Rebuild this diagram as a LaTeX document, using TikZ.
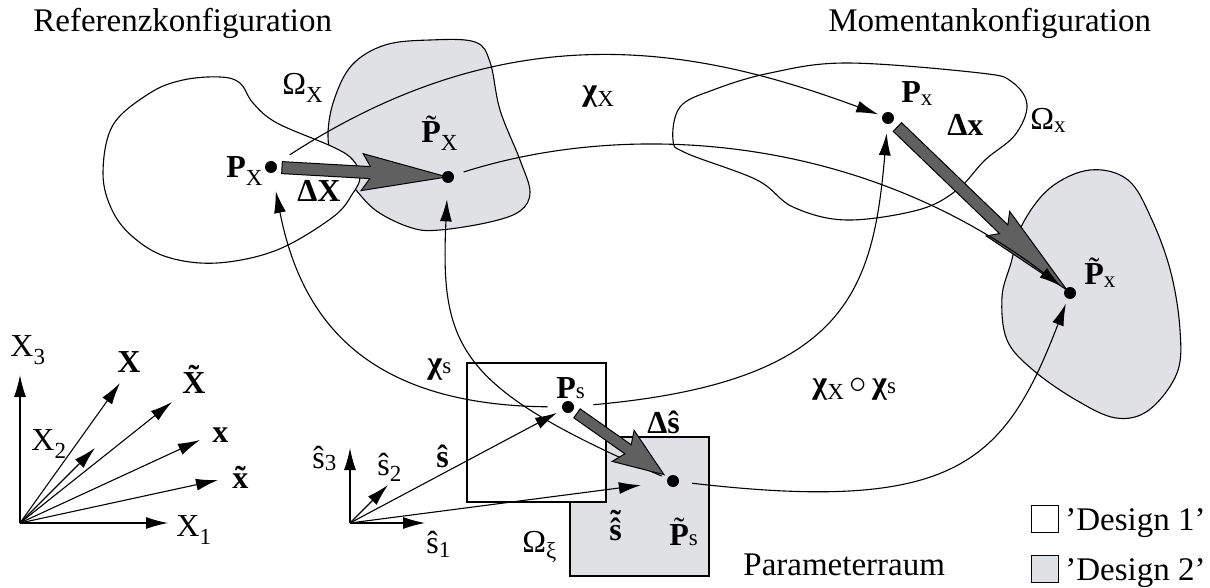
\documentclass[tikz,border=0pt]{standalone}
\usepackage{fontspec}
\setmainfont{Liberation Serif}
\usetikzlibrary{arrows.meta,calc}
\definecolor{lgray}{RGB}{224,225,228}
\definecolor{dgray}{RGB}{96,96,96}
\newcommand\Sb[2][4pt]{\raisebox{-#1}{\fontsize{11.5}{11.5}\selectfont #2}}
\newcommand\Tl[2][0.18em]{\ooalign{#2\cr\hfil\raisebox{#1}{˜}\hfil\cr}}
\newcommand\blockarr[8]{%
  \coordinate (ba-s) at ($(#1)!#3!(#2)$);
  \coordinate (ba-t) at ($(#2)!#4!(#1)$);
  \coordinate (ba-j) at ($(ba-t)!#6!(ba-s)$);
  \coordinate (ba-b) at ($(ba-t)!#6+#8!(ba-s)$);
  \filldraw[blockstyle] ($(ba-s)!#5!90:(ba-t)$) -- ($(ba-j)!#5!90:(ba-t)$)
    -- ($(ba-b)!#7!90:(ba-t)$) -- (ba-t) -- ($(ba-b)!#7!-90:(ba-t)$)
    -- ($(ba-j)!#5!-90:(ba-t)$) -- ($(ba-s)!#5!-90:(ba-t)$) -- cycle;}
\begin{document}
\begin{tikzpicture}[x={(0.5pt,0)}, y={(0,-0.5pt)},
  blob/.style={draw=black, line width=0.55pt},
  conn/.style={line width=0.55pt, -{Latex[length=11pt,width=6pt]}},
  blockstyle/.style={fill=dgray, draw=black, line width=0.5pt, line join=miter},
  dotn/.style={circle, minimum size=6pt, inner sep=0pt},
  lab/.style={inner sep=0pt, anchor=base west, font=\fontsize{16}{19}\selectfont},
  big/.style={inner sep=0pt, anchor=base west, font=\fontsize{16.5}{19}\selectfont},
  legbox/.style={draw=black, line width=0.5pt, minimum size=13.5pt, inner sep=0pt, anchor=north west},
  legtxt/.style={inner sep=0pt, anchor=base west, font=\fontsize{16.5}{19}\selectfont}]
\useasboundingbox (0,0) rectangle (1210,588);

% ---- grey (design 2) shapes
\draw[blob, fill=lgray] plot[smooth cycle, tension=0.6] coordinates {
  (385,45) (430,40) (475,42) (490,62) (500,110) (520,160) (530,192) (520,211)
  (490,222) (440,230) (412,228) (378,212) (356,190) (334,160) (328,135) (334,100) (352,65)};
\draw[blob, fill=lgray] plot[smooth cycle, tension=0.6] coordinates {
  (1011,263) (1022,225) (1050,188) (1090,170) (1128,180) (1152,220) (1171,273)
  (1180,330) (1177,373) (1149,410) (1116,418) (1076,400) (1033,370) (1007,340) (1002,297)};
\draw[line width=0.55pt, fill=lgray] (570,437) rectangle (709,576);

% ---- white (design 1) shapes
\draw[blob, fill=white] plot[smooth cycle, tension=0.6] coordinates {
  (103,173) (113,125) (150,93) (183,80) (220,77) (240,83) (253,103) (277,123)
  (333,147) (353,160) (360,177) (353,193) (333,217) (277,250) (217,263)
  (167,257) (133,237) (112,210)};
\draw[blob, fill=white] plot[smooth cycle, tension=0.6] coordinates {
  (673,140) (680,107) (713,90) (770,73) (847,63) (980,73) (1012,82) (1027,105)
  (1015,135) (985,160) (957,190) (918,210) (846,220) (793,207) (757,180) (686,153)};
\draw[line width=0.55pt, fill=white] (467,363) rectangle (606,502);

% ---- points
\node[dotn] (PXa) at (271,167) {};
\node[dotn] (PXt) at (448,177) {};
\node[dotn] (Pxa) at (888,118) {};
\node[dotn] (Pxt) at (1070,293) {};
\node[dotn] (Psa) at (568,407) {};
\node[dotn] (Pst) at (673,481) {};

% ---- mappings
\draw[conn, shorten <=8pt, shorten >=2pt] (PXa) .. controls (513,10) and (699,48) .. (Pxa);
\draw[conn, shorten <=7pt, shorten >=9pt] (Psa) .. controls (360,405) and (300,314) .. (PXa);
\draw[conn, shorten <=3pt, shorten >=8pt] (Pst) .. controls (458,388) and (440,348) .. (PXt);
\draw[conn, shorten <=9.5pt, shorten >=4.5pt] (Psa) .. controls (847,382) and (873,291) .. (Pxa);
\draw[conn, shorten <=6.5pt, shorten >=2.5pt] (Pst) .. controls (957,514) and (1005,462) .. (Pxt);

% ---- coordinate systems
\coordinate (O1) at (20,523);
\coordinate (tX3) at (20,375);
\coordinate (tX1) at (168,523);
\coordinate (tX2) at (95,448);
\coordinate (tXb) at (120,383);
\coordinate (tXt) at (172,402);
\coordinate (txb) at (200,440);
\coordinate (txt) at (218,480);
\foreach \t in {tX3,tX1,tX2,tXb,tXt,txb,txt} \draw[conn] (O1) -- (\t);
\coordinate (O2) at (350,523);
\coordinate (ts3) at (350,448);
\coordinate (ts1) at (425,523);
\coordinate (ts2) at (388,485);
\foreach \t in {ts3,ts1,ts2} \draw[conn] (O2) -- (\t);
\draw[conn, shorten >=3pt] (O2) -- (Psa);
\draw[conn, shorten >=13pt] (O2) -- (Pst);

% ---- increments
\blockarr{PXa}{PXt}{5.5pt}{0.5pt}{3pt}{38.5pt}{9.25pt}{4pt}
\blockarr{Pxa}{Pxt}{6.5pt}{2pt}{3pt}{44pt}{8.5pt}{4pt}
\blockarr{Psa}{Pst}{5.5pt}{5.5pt}{2.75pt}{22pt}{9.5pt}{3pt}

\draw[conn, shorten <=5pt, shorten >=2.5pt] (PXt) .. controls (630,119) and (862,135) .. (Pxt);

% ---- dots
\foreach \p in {PXa,PXt,Pxa,Pxt,Psa,Pst} \fill[black] (\p) circle[radius=3pt];

% ---- labels
\node[big] (lRef) at (33,32) {Referenzkonfiguration};
\node[big] (lMom) at (828,32) {Momentankonfiguration};
\node[big] (lPar) at (743,575) {Parameterraum};
\node[lab] (lOmX) at (282,95) {Ω\Sb{X}};
\node[lab] (lPX) at (226,178) {\textbf{P}\Sb{X}};
\node[lab] (lDX) at (297,202) {\textbf{ΔX}};
\node[lab] (lPtX) at (421,143) {\Tl{\textbf{P}}\Sb{X}};
\node[lab] (lchiX) at (582,101) {\textbf{χ}\Sb[3pt]{X}};
\node[lab] (lPx) at (901,103) {\textbf{P}\Sb[1.5pt]{x}};
\node[lab] (lDx) at (947,136) {\textbf{Δx}};
\node[lab] (lOmx) at (1030,130) {Ω\Sb[1.5pt]{x}};
\node[lab] (lPtx) at (1084,285) {\Tl{\textbf{P}}\Sb[1.5pt]{x}};
\node[lab] (lchis) at (427,373) {\textbf{χ}\Sb[0pt]{s}};
\node[lab] (lcomp) at (812,393) {\textbf{χ}\Sb[3pt]{X}\,$\circ$\,\textbf{χ}\Sb[0pt]{s}};
\node[lab] (lPs) at (556,398) {\textbf{P}\Sb[0pt]{s}};
\node[lab] (lDs) at (647,433) {\textbf{Δŝ}};
\node[lab] (lsh) at (436,467) {\textbf{ŝ}};
\node[lab] (lst) at (609,540) {\textbf{\Tl[0.22em]{ŝ}}};
\node[lab] (lPts) at (669,545) {\Tl{\textbf{P}}\Sb[0pt]{s}};
\node[lab] (lOmxi) at (522,552) {Ω\Sb[3pt]{ξ}};
\node[lab] (ls3) at (312,468) {ŝ\Sb[1pt]{3}};
\node[lab] (ls2) at (377,475) {ŝ\Sb[3pt]{2}};
\node[lab] (ls1) at (426,553) {ŝ\Sb[2pt]{1}};
\node[lab] (lX3) at (10,357) {X\Sb{3}};
\node[lab] (lXb) at (117,372) {\textbf{X}};
\node[lab] (lXt) at (182,393) {\textbf{\Tl{X}}};
\node[lab] (lX2) at (31,450) {X\Sb{2}};
\node[lab] (lxb) at (212,442) {\textbf{x}};
\node[lab] (lxt) at (232,488) {\textbf{\Tl[0em]{x}}};
\node[lab] (lX1) at (176,536) {X\Sb{1}};

% ---- legend
\node[legbox, fill=white] (lg1) at (1031,505) {};
\node[legbox, fill=lgray] (lg2) at (1031,555) {};
\node[legtxt] (lt1) at (1065,530) {’Design 1’};
\node[legtxt] (lt2) at (1065,580) {’Design 2’};
\end{tikzpicture}
\end{document}
